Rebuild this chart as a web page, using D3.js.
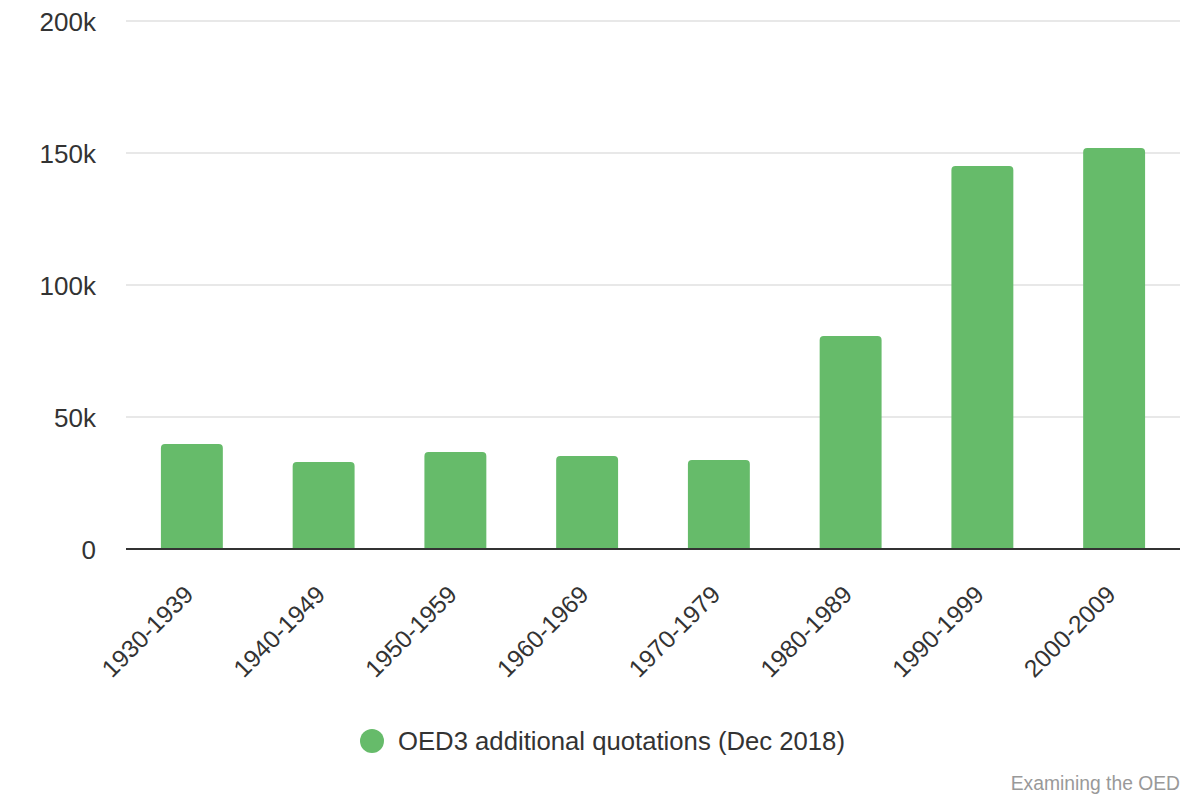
<!DOCTYPE html>
<html><head><meta charset="utf-8">
<script src="https://cdn.jsdelivr.net/npm/d3@7"></script>
<style>body{margin:0;background:#fff;} svg{display:block;font-family:"Liberation Sans",Arial,sans-serif;}</style>
</head><body>
<script>
const categories = ["1930-1939","1940-1949","1950-1959","1960-1969","1970-1979","1980-1989","1990-1999","2000-2009"];
const values = [39800, 33000, 36700, 35200, 33700, 80700, 145100, 151900];
const yTicks = [0, 50000, 100000, 150000, 200000];
const seriesName = "OED3 additional quotations (Dec 2018)";
const credit = "Examining the OED";

(function () {
const W = 1200, H = 800;
const svg = d3.select("body").append("svg").attr("width", W).attr("height", H);
const mLeft = 126, mRight = 1180, mTop = 21, mBottom = 549;
const x = d3.scaleBand().domain(categories).range([mLeft, mRight]).paddingInner(0.53).paddingOuter(0.265);
const y = d3.scaleLinear().domain([0, 200000]).range([mBottom, mTop]);
const fs = 26;

// gridlines
svg.append("g").selectAll("line").data(yTicks.filter(d => d > 0)).join("line")
  .attr("x1", mLeft).attr("x2", mRight).attr("y1", d => y(d)).attr("y2", d => y(d))
  .attr("stroke", "#e0e0e0").attr("stroke-width", 1.5);

// y labels
svg.append("g").selectAll("text").data(yTicks).join("text")
  .attr("x", 96).attr("y", d => y(d) + 9.5).attr("text-anchor", "end")
  .attr("font-size", fs).attr("fill", "#333")
  .text(d => d === 0 ? "0" : (d / 1000) + "k");

// bars with rounded top corners
const r = 4;
svg.append("g").selectAll("path").data(values).join("path")
  .attr("fill", "#66bb6a")
  .attr("d", (d, i) => {
    const x0 = x(categories[i]), w = x.bandwidth(), y0 = y(d), yb = y(0);
    return `M${x0},${yb}V${y0 + r}Q${x0},${y0} ${x0 + r},${y0}H${x0 + w - r}Q${x0 + w},${y0} ${x0 + w},${y0 + r}V${yb}Z`;
  });

// baseline
svg.append("line").attr("x1", mLeft).attr("x2", mRight).attr("y1", y(0)).attr("y2", y(0))
  .attr("stroke", "#333").attr("stroke-width", 2);

// x labels
svg.append("g").selectAll("text").data(categories).join("text")
  .attr("transform", d => `translate(${x(d) + x.bandwidth() / 2 + 3},${y(0) + 47}) rotate(-45)`)
  .attr("text-anchor", "end").attr("font-size", 24.5).attr("fill", "#333")
  .text(d => d);

// legend
svg.append("circle").attr("cx", 372).attr("cy", 741).attr("r", 12).attr("fill", "#66bb6a");
svg.append("text").attr("x", 398).attr("y", 750).attr("font-size", 25.7).attr("fill", "#333").text(seriesName);

// credit
svg.append("text").attr("x", 1180).attr("y", 790).attr("text-anchor", "end")
  .attr("font-size", 19.3).attr("fill", "#999").text(credit);
})();
</script>
</body></html>
